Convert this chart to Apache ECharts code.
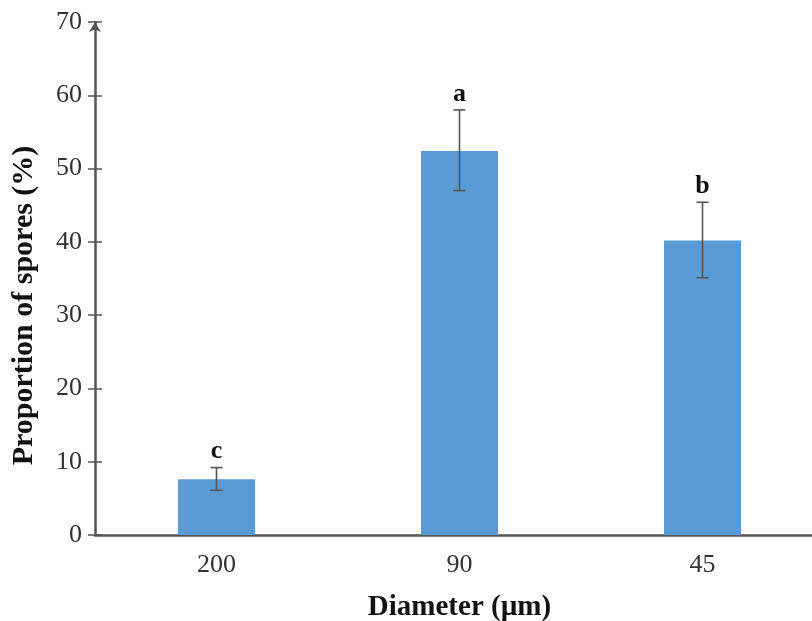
<!DOCTYPE html>
<html>
<head>
<meta charset="utf-8">
<script src="https://cdn.jsdelivr.net/npm/echarts@6/dist/echarts.min.js"></script>
<style>html,body{margin:0;padding:0;background:#fff;}#c{width:812px;height:621px;}</style>
</head>
<body>
<div id="c"></div>
<script>
const categories = ['200', '90', '45'];
const values = [7.6, 52.4, 40.2];
const errLow = [6.1, 47.0, 35.1];
const errHigh = [9.2, 58.0, 45.4];
const letters = ['c', 'a', 'b'];
const yTicks = [0, 10, 20, 30, 40, 50, 60, 70];

const serif = '"Liberation Serif", "Times New Roman", serif';
const chart = echarts.init(document.getElementById('c'), null, {renderer: 'canvas'});
const errData = categories.map((c, i) => [i, errLow[i], errHigh[i], letters[i]]);

chart.setOption({
  animation: false,
  backgroundColor: '#fff',
  grid: {left: 95, right: -12, top: 22, bottom: 86, containLabel: false, outerBoundsMode: 'none'},
  xAxis: {
    type: 'category',
    data: categories,
    axisLine: {show: true, lineStyle: {color: '#555', width: 2.5}},
    axisTick: {show: false},
    axisLabel: {fontFamily: serif, fontSize: 26, color: '#333', margin: 17},
    name: 'Diameter (µm)',
    nameLocation: 'middle',
    nameGap: 58,
    nameTextStyle: {fontFamily: serif, fontSize: 29, fontWeight: 'bold', color: '#111'}
  },
  yAxis: [
    {
      type: 'value',
      min: yTicks[0],
      max: yTicks[yTicks.length - 1],
      interval: 10,
      splitLine: {show: false},
      axisLine: {show: true, lineStyle: {color: '#555', width: 2.5}, symbol: ['none', 'arrow'], symbolSize: [9, 10]},
      axisTick: {show: true, length: 7, lineStyle: {color: '#555', width: 1.5}},
      axisLabel: {fontFamily: serif, fontSize: 26, color: '#333', margin: 13},
      name: 'Proportion of spores (%)',
      nameLocation: 'middle',
      nameGap: 56,
      nameTextStyle: {fontFamily: serif, fontSize: 30, fontWeight: 'bold', color: '#111', padding: [0, 54, 0, 0]}
    },
    {
      type: 'value',
      position: 'left',
      min: yTicks[0],
      max: yTicks[yTicks.length - 1],
      interval: 10,
      splitLine: {show: false},
      axisLine: {show: false},
      axisTick: {show: true, inside: true, length: 7, lineStyle: {color: '#555', width: 1.5}},
      axisLabel: {show: false}
    }
  ],
  series: [
    {
      type: 'bar',
      data: values,
      barWidth: '31.7%',
      itemStyle: {color: '#5B9BD5'}
    },
    {
      type: 'custom',
      data: errData,
      z: 10,
      renderItem: function (params, api) {
        const x = api.value(0);
        const lo = api.coord([x, api.value(1)]);
        const hi = api.coord([x, api.value(2)]);
        const cap = 6;
        const style = {stroke: '#555', lineWidth: 1.6};
        return {
          type: 'group',
          children: [
            {type: 'line', shape: {x1: lo[0], y1: lo[1], x2: hi[0], y2: hi[1]}, style: style},
            {type: 'line', shape: {x1: lo[0] - cap, y1: lo[1], x2: lo[0] + cap, y2: lo[1]}, style: style},
            {type: 'line', shape: {x1: hi[0] - cap, y1: hi[1], x2: hi[0] + cap, y2: hi[1]}, style: style},
            {type: 'text', style: {text: api.value(3), x: hi[0], y: hi[1] - 16, align: 'center', verticalAlign: 'middle',
              font: 'bold 26px ' + serif, fill: '#111'}}
          ]
        };
      }
    }
  ]
});
</script>
</body>
</html>
